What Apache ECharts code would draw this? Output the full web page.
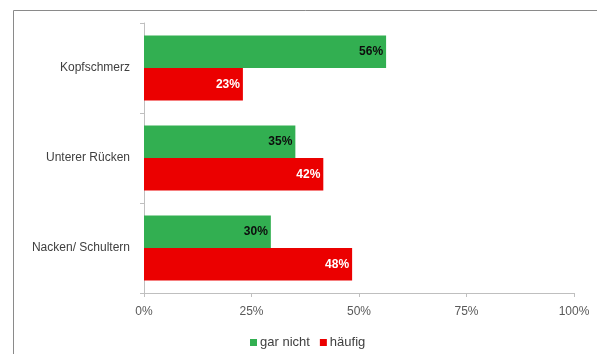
<!DOCTYPE html>
<html><head><meta charset="utf-8">
<script src="https://cdn.jsdelivr.net/npm/echarts@6/dist/echarts.min.js"></script>
<style>html,body{margin:0;padding:0;background:#fff}#c{width:597px;height:354px}</style>
</head><body><div id="c"></div>
<script>
const categories = ['Kopfschmerz', 'Unterer Rücken', 'Nacken/ Schultern'];
const garNicht = [56.3, 35.2, 29.5];
const haeufig = [23.0, 41.7, 48.4];
const xTicks = [0, 25, 50, 75, 100];
const seriesNames = ['gar nicht', 'häufig'];

const chart = echarts.init(document.getElementById('c'), null, {renderer: 'canvas'});
const font = '"Liberation Sans", Arial, sans-serif';
chart.setOption({
  animation: false,
  backgroundColor: '#fff',
  graphic: [{type: 'rect', shape: {x: 13.5, y: 10.5, width: 640, height: 400}, style: {fill: 'none', stroke: '#8a8a8a', lineWidth: 1}, z: -1}],
  grid: {left: 144, right: 23, top: 23, bottom: 61, containLabel: false},
  legend: {
    top: 331, left: 245, itemWidth: 7, itemHeight: 7, itemGap: 10, icon: 'rect',
    textStyle: {fontFamily: font, fontSize: 13, color: '#404040', padding: [0, 0, 0, -2]},
    data: seriesNames
  },
  xAxis: {
    type: 'value', min: xTicks[0], max: xTicks[xTicks.length - 1], interval: 25,
    axisLine: {show: true, lineStyle: {color: '#bfbfbf'}},
    axisTick: {show: true, length: 4, lineStyle: {color: '#bfbfbf'}},
    splitLine: {show: false},
    axisLabel: {formatter: v => v + '%', fontFamily: font, fontSize: 12, color: '#595959', margin: 13}
  },
  yAxis: {
    type: 'category', data: categories, inverse: true,
    axisLine: {show: true, lineStyle: {color: '#bfbfbf'}},
    axisTick: {show: true, length: 4, lineStyle: {color: '#bfbfbf'}},
    axisLabel: {fontFamily: font, fontSize: 12, color: '#404040', margin: 14}
  },
  series: [
    {name: seriesNames[0], type: 'bar', data: garNicht, barGap: '0%', barCategoryGap: '27.8%',
     itemStyle: {color: '#32af51'},
     label: {show: true, position: 'insideRight', formatter: p => Math.round(p.value) + '%', fontFamily: font, fontSize: 12, fontWeight: 'bold', color: '#0d0d0d', distance: 3}},
    {name: seriesNames[1], type: 'bar', data: haeufig, barGap: '0%', barCategoryGap: '27.8%',
     itemStyle: {color: '#eb0000'},
     label: {show: true, position: 'insideRight', formatter: p => Math.round(p.value) + '%', fontFamily: font, fontSize: 12, fontWeight: 'bold', color: '#ffffff', distance: 3}}
  ]
});
</script></body></html>
